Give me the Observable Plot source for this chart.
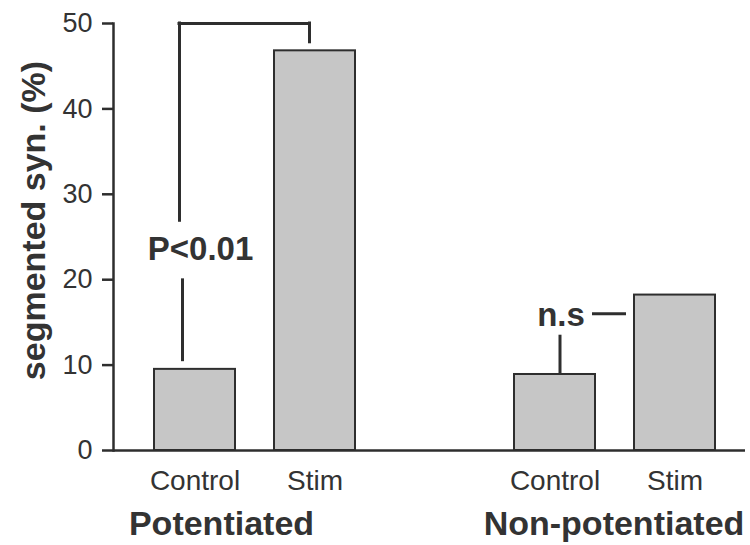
<!DOCTYPE html>
<html><head><meta charset="utf-8">
<script src="https://cdn.jsdelivr.net/npm/d3@7"></script>
<script src="https://cdn.jsdelivr.net/npm/@observablehq/plot@0.6"></script>
<style>
body{margin:0;background:#fff;}
#chart svg{display:block;}
</style></head>
<body><div id="chart"></div>
<script>
// x slots (with an empty gap between the two groups)
const slots = ["Potentiated Control", "Potentiated Stim", "", "Non-potentiated Control", "Non-potentiated Stim"];
const barSlots = ["Potentiated Control", "Potentiated Stim", "Non-potentiated Control", "Non-potentiated Stim"];
const barLabels = ["Control", "Stim", "Control", "Stim"];
const barValues = [9.5, 46.8, 8.9, 18.2];
const groupNames = ["Potentiated", "Non-potentiated"];
const groupAnchors = ["Potentiated Control", "Non-potentiated Control"];
const yTicks = [0, 10, 20, 30, 40, 50];
const yLabel = "segmented syn. (%)";
// significance annotations
const sigLabels = ["P<0.01", "n.s"];
const sigSlots = ["Potentiated Control", "Non-potentiated Control"];
const sigLabelY = [23.6, 15.8];
const bracketTop = 50;
const bracketLeftBottom = 26.9;
const bracketRightBottom = 47.8;
const stubP = [10.4, 20.1];
const stubNS = [8.9, 13.5];
const nsDashY = 16;

const bars = barSlots.map((s, i) => ({slot: s, label: barLabels[i], value: barValues[i]}));
const labelOf = new Map(bars.map(d => [d.slot, d.label]));
const ink = "#2e2e2e";

const chart = Plot.plot({
  width: 750,
  height: 545,
  marginTop: 23,
  marginBottom: 95,
  marginLeft: 113,
  marginRight: 5,
  style: {fontFamily: "'Liberation Sans', Arial, sans-serif", color: "#333", background: "#fff"},
  x: {type: "band", domain: slots, range: [153, 716], paddingInner: 0.328, paddingOuter: 0, align: 0.5},
  y: {domain: [0, 50]},
  marks: [
    Plot.barY(bars, {x: "slot", y: "value", fill: "#c6c6c6", stroke: ink, strokeWidth: 2}),
    Plot.ruleY([0], {stroke: ink, strokeWidth: 2.5}),
    Plot.frame({anchor: "left", stroke: ink, strokeWidth: 2.5}),
    Plot.axisY({ticks: yTicks, tickSize: 11, tickPadding: 10, fontSize: 27, stroke: ink, strokeWidth: 2.5, label: null}),
    Plot.axisX({ticks: barSlots, tickFormat: d => labelOf.get(d), tickSize: 0, tickPadding: 20, fontSize: 28, label: null}),
    // y label
    Plot.text([yLabel], {text: d => d, frameAnchor: "left", textAnchor: "middle", rotate: -90, dx: -79, dy: -16.5, fontSize: 34, fontWeight: "bold", fill: "#333"}),
    // group labels
    Plot.text([groupNames[0]], {x: () => groupAnchors[0], text: d => d, frameAnchor: "bottom", textAnchor: "middle", dx: 26.5, dy: 84, fontSize: 34, fontWeight: "bold", fill: "#333"}),
    Plot.text([groupNames[1]], {x: () => groupAnchors[1], text: d => d, frameAnchor: "bottom", textAnchor: "middle", dx: 59, dy: 84, fontSize: 34, fontWeight: "bold", fill: "#333"}),
    // bracket for P<0.01
    Plot.ruleX([{s: sigSlots[0], y1: bracketLeftBottom, y2: bracketTop}], {x: "s", y1: "y1", y2: "y2", dx: -15.5, stroke: ink, strokeWidth: 3, strokeLinecap: "square"}),
    Plot.ruleX([{s: "Potentiated Stim", y1: bracketRightBottom, y2: bracketTop}], {x: "s", y1: "y1", y2: "y2", dx: -5.5, stroke: ink, strokeWidth: 3, strokeLinecap: "square"}),
    Plot.ruleY([{x1: sigSlots[0], x2: "Potentiated Stim", y: bracketTop}], {x1: "x1", x2: "x2", y: "y", insetLeft: 25, insetRight: 46, stroke: ink, strokeWidth: 3, strokeLinecap: "square"}),
    Plot.ruleX([{s: sigSlots[0], y1: stubP[0], y2: stubP[1]}], {x: "s", y1: "y1", y2: "y2", dx: -12.5, stroke: ink, strokeWidth: 3}),
    // n.s annotation
    Plot.ruleX([{s: sigSlots[1], y1: stubNS[0], y2: stubNS[1]}], {x: "s", y1: "y1", y2: "y2", dx: 5, stroke: ink, strokeWidth: 3}),
    Plot.ruleY([{x1: sigSlots[1], x2: "Non-potentiated Stim", y: nsDashY}], {x1: "x1", x2: "x2", y: "y", insetLeft: 78, insetRight: 89, stroke: ink, strokeWidth: 3}),
    Plot.text([{t: sigLabels[0], s: sigSlots[0], y: sigLabelY[0]}], {x: "s", y: "y", text: "t", dx: 5.5, fontSize: 33, fontWeight: "bold", fill: "#333"}),
    Plot.text([{t: sigLabels[1], s: sigSlots[1], y: sigLabelY[1]}], {x: "s", y: "y", text: "t", dx: 6, fontSize: 33, fontWeight: "bold", fill: "#333"})
  ]
});
document.getElementById("chart").append(chart);
</script>
</body></html>
